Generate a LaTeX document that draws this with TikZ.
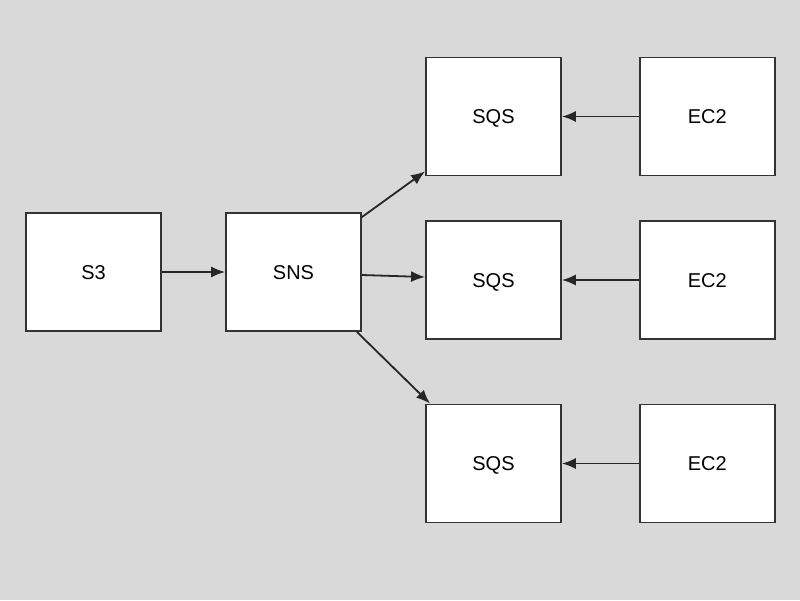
\documentclass[tikz,border=0pt]{standalone}
\usepackage{fontspec}
\setmainfont{Liberation Sans}
\usetikzlibrary{positioning,arrows.meta}
\definecolor{bg}{HTML}{D9D9D9}
\definecolor{edge}{HTML}{333333}

\begin{document}
\begin{tikzpicture}[x=1pt,y=-1pt,font=\fontsize{20}{24}\selectfont,
	svc/.style={draw=edge,line width=1.8pt,fill=white,minimum width=135pt,minimum height=118pt,inner sep=0pt,text height=14.3pt,text depth=0pt},
	link/.style={-{Latex[length=14pt,width=11pt]},line width=1.8pt,draw=black!85}]
\fill[bg] (0,0) rectangle (800,600);
\useasboundingbox (0,0) rectangle (800,600);
\node[svc]							(s3)	at (93.5,272)					{S3};
\node[svc]							(sns)	at (293.5,272)					{SNS};
\node[svc]							(sqs1)	at (493.5,116.5)				{SQS};
\node[svc]							(sqs2)	at (493.5,280)					{SQS};
\node[svc]							(sqs3)	at (493.5,463.5)				{SQS};
\node[svc]							(ec1)	[right=77pt of sqs1]			{EC2};
\node[svc]							(ec2)	[right=77pt of sqs2]			{EC2};
\node[svc]							(ec3)	[right=77pt of sqs3]			{EC2};
\draw[link] (s3)									-- (sns);
\draw[link] ([yshift=-5pt]sns.north east)			-- ([yshift=5pt]sqs1.south west);
\draw[link] ([yshift=-3pt]sns.east)					-- ([yshift=3pt]sqs2.west);
\draw[link] ([xshift=-5pt]sns.south east)			-- ([xshift=5pt]sqs3.north west);
\draw[link] (ec1)									-- (sqs1);
\draw[link] (ec2)									-- (sqs2);
\draw[link] (ec3)									-- (sqs3);
\end{tikzpicture}
\end{document}
